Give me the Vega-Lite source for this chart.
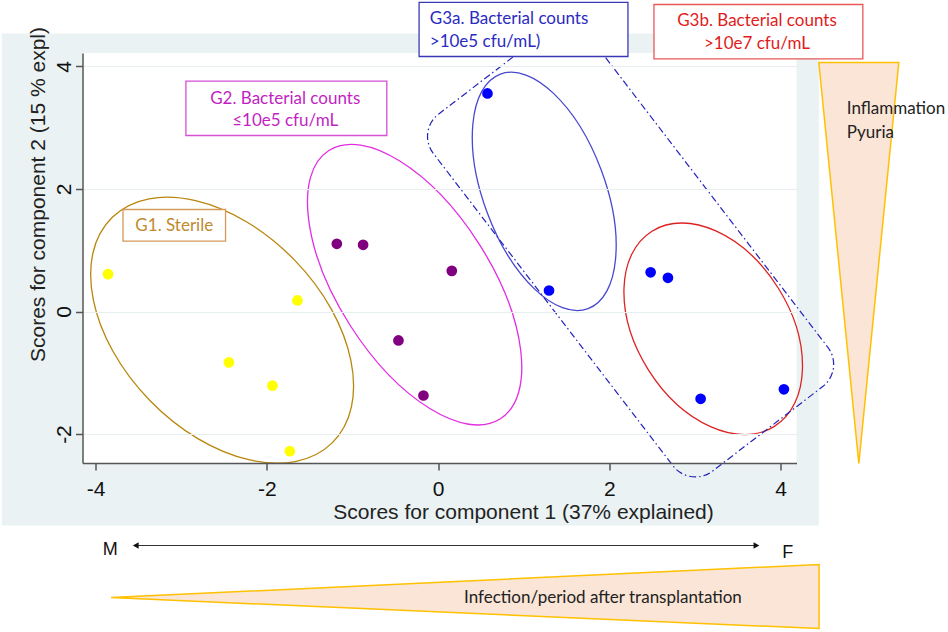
{
  "$schema": "https://vega.github.io/schema/vega-lite/v6.json",
  "width": 714,
  "height": 410,
  "autosize": {"type": "none"},
  "padding": {"left": 82.5, "top": 53, "right": 151.5, "bottom": 169},
  "background": "white",
  "config": {
    "view": {"stroke": null},
    "font": "Liberation Sans"
  },
  "datasets": {
    "panel": [
      {"part": "outer", "x": -5.096, "x2": 4.448, "y": 4.539, "y2": -3.494},
      {"part": "inner", "x": -4.154, "x2": 4.187, "y": 4.22, "y2": -2.473}
    ],
    "ellipses": [
      {"group": "G1", "x": -2.523, "y": -0.305},
      {"group": "G2", "x": -0.274, "y": 0.438},
      {"group": "G3a", "x": 1.24, "y": 1.961},
      {"group": "G3b", "x": 3.214, "y": -0.282},
      {"group": "G3", "x": 2.249, "y": 0.998}
    ],
    "points": [
      {"group": "G1", "x": -3.856, "y": 0.61},
      {"group": "G1", "x": -1.643, "y": 0.18},
      {"group": "G1", "x": -2.444, "y": -0.83},
      {"group": "G1", "x": -1.935, "y": -1.21},
      {"group": "G1", "x": -1.732, "y": -2.28},
      {"group": "G2", "x": -1.183, "y": 1.105},
      {"group": "G2", "x": -0.876, "y": 1.089},
      {"group": "G2", "x": 0.16, "y": 0.664},
      {"group": "G2", "x": -0.463, "y": -0.473},
      {"group": "G2", "x": -0.171, "y": -1.371},
      {"group": "G3", "x": 0.577, "y": 3.56},
      {"group": "G3", "x": 1.296, "y": 0.343},
      {"group": "G3", "x": 2.483, "y": 0.64},
      {"group": "G3", "x": 2.685, "y": 0.55},
      {"group": "G3", "x": 3.067, "y": -1.425},
      {"group": "G3", "x": 4.04, "y": -1.27}
    ],
    "boxes": [
      {"group": "G1", "x": -3.681, "x2": -2.483, "y": 1.665, "y2": 1.148},
      {"group": "G2", "x": -2.946, "x2": -0.599, "y": 3.76, "y2": 2.873},
      {"group": "G3a", "x": -0.222, "x2": 2.218, "y": 5.045, "y2": 4.163},
      {"group": "G3b", "x": 2.522, "x2": 4.962, "y": 5.012, "y2": 4.125}
    ],
    "centered": [
      {"tone": "G1", "text": "G1. Sterile", "x": -3.082, "y": 1.404},
      {"tone": "G2", "text": "G2. Bacterial counts", "x": -1.786, "y": 3.473},
      {"tone": "G2", "text": "≤10e5 cfu/mL", "x": -1.786, "y": 3.118},
      {"tone": "G3b", "text": "G3b. Bacterial counts", "x": 3.725, "y": 4.74},
      {"tone": "G3b", "text": ">10e7 cfu/mL", "x": 3.725, "y": 4.371}
    ],
    "leftText": [
      {"tone": "G3a", "text": "G3a. Bacterial counts", "x": -0.097, "y": 4.779},
      {"tone": "G3a", "text": ">10e5 cfu/mL)", "x": -0.097, "y": 4.397},
      {"tone": "plain", "text": "Inflammation", "x": 4.775, "y": 3.298},
      {"tone": "plain", "text": "Pyuria", "x": 4.775, "y": 2.922},
      {"tone": "plain", "text": "Infection/period after transplantation", "x": 0.304, "y": -4.669}
    ],
    "wedges": [
      {"name": "vertical", "x": 4.915, "y": 0.792},
      {"name": "horizontal", "x": 0.315, "y": -4.653}
    ],
    "arrow": [
      {"x": -3.55, "x2": 3.70, "y": -3.82}
    ],
    "heads": [
      {"dir": "left", "x": -3.532, "y": -3.82},
      {"dir": "right", "x": 3.719, "y": -3.82}
    ],
    "ends": [
      {"text": "M", "x": -3.83, "y": -3.886},
      {"text": "F", "x": 4.086, "y": -3.935}
    ]
  },
  "encoding": {
    "x": {
      "field": "x",
      "type": "quantitative",
      "scale": {"domain": [-4.154, 4.187], "nice": false, "zero": false},
      "axis": {
        "values": [-4, -2, 0, 2, 4],
        "labelExpr": "replace(datum.label, '\u2212', '-')",
        "grid": false,
        "zindex": 1,
        "domainColor": "#555555",
        "domainWidth": 1.5,
        "tickColor": "#555555",
        "tickWidth": 1.5,
        "tickSize": 7,
        "labelFontSize": 21,
        "labelColor": "#111111",
        "labelPadding": 8,
        "labelFlush": false,
        "title": "Scores for component 1  (37% explained)",
        "titleFontSize": 21,
        "titleFontWeight": "normal",
        "titleColor": "#222222",
        "titleX": 440.5,
        "titleY": 55,
        "titleAlign": "center",
        "titleBaseline": "alphabetic"
      }
    },
    "y": {
      "field": "y",
      "type": "quantitative",
      "scale": {"domain": [-2.473, 4.22], "nice": false, "zero": false},
      "axis": {
        "values": [-2, 0, 2, 4],
        "labelExpr": "replace(datum.label, '\u2212', '-')",
        "grid": true,
        "gridColor": "#e6eef0",
        "gridWidth": 1.2,
        "zindex": 1,
        "domainColor": "#555555",
        "domainWidth": 1.5,
        "tickColor": "#555555",
        "tickWidth": 1.5,
        "tickSize": 7,
        "labelFontSize": 21,
        "labelColor": "#111111",
        "labelAngle": -90,
        "labelAlign": "center",
        "labelBaseline": "alphabetic",
        "labelPadding": 5,
        "labelFlush": false,
        "title": "Scores for component 2  (15 % expl)",
        "titleFontSize": 21,
        "titleFontWeight": "normal",
        "titleColor": "#222222",
        "titleAngle": -90,
        "titleX": -44.5,
        "titleY": 141,
        "titleAlign": "center",
        "titleBaseline": "middle"
      }
    }
  },
  "layer": [
    {
      "data": {"name": "panel"},
      "transform": [{"filter": "datum.part == 'outer'"}],
      "mark": {"type": "rect", "fill": "#eaf2f3"},
      "encoding": {"x2": {"field": "x2"}, "y2": {"field": "y2"}}
    },
    {
      "data": {"name": "panel"},
      "transform": [{"filter": "datum.part == 'inner'"}],
      "mark": {"type": "rect", "fill": "#ffffff"},
      "encoding": {"x2": {"field": "x2"}, "y2": {"field": "y2"}}
    },
    {
      "data": {"name": "ellipses"},
      "transform": [{"filter": "datum.group == 'G1'"}],
      "mark": {"type": "point", "filled": false, "opacity": 1, "stroke": "#b8860b", "strokeWidth": 1.3,
        "shape": "M -1 0 A 1 0.64 0 1 1 1 0 A 1 0.64 0 1 1 -1 0 Z", "size": 99225, "angle": 45.8}
    },
    {
      "data": {"name": "ellipses"},
      "transform": [{"filter": "datum.group == 'G2'"}],
      "mark": {"type": "point", "filled": false, "opacity": 1, "stroke": "#e22ee2", "strokeWidth": 1.3,
        "shape": "M -1 0 A 1 0.479 0 1 1 1 0 A 1 0.479 0 1 1 -1 0 Z", "size": 101378, "angle": 57.4}
    },
    {
      "data": {"name": "ellipses"},
      "transform": [{"filter": "datum.group == 'G3a'"}],
      "mark": {"type": "point", "filled": false, "opacity": 1, "stroke": "#4848d0", "strokeWidth": 1.3,
        "shape": "M -1 0 A 1 0.486 0 1 1 1 0 A 1 0.486 0 1 1 -1 0 Z", "size": 62700, "angle": 69.5}
    },
    {
      "data": {"name": "ellipses"},
      "transform": [{"filter": "datum.group == 'G3b'"}],
      "mark": {"type": "point", "filled": false, "opacity": 1, "stroke": "#dd2222", "strokeWidth": 1.3,
        "shape": "M -1 0 A 1 0.666 0 1 1 1 0 A 1 0.666 0 1 1 -1 0 Z", "size": 53084, "angle": 57.9}
    },
    {
      "data": {"name": "ellipses"},
      "transform": [{"filter": "datum.group == 'G3'"}],
      "mark": {"type": "point", "filled": false, "opacity": 1, "stroke": "#2222bb", "strokeWidth": 1.2,
        "strokeDash": [7, 3, 1.5, 3],
        "shape": "M -0.8756 -0.4333 L 0.8756 -0.4333 A 0.1244 0.1244 0 0 1 1 -0.3089 L 1 0.3089 A 0.1244 0.1244 0 0 1 0.8756 0.4333 L -0.8756 0.4333 A 0.1244 0.1244 0 0 1 -1 0.3089 L -1 -0.3089 A 0.1244 0.1244 0 0 1 -0.8756 -0.4333 Z",
        "size": 202500, "angle": 52.5}
    },
    {
      "data": {"name": "points"},
      "mark": {"type": "point", "filled": true, "opacity": 1, "shape": "circle", "size": 115},
      "encoding": {
        "color": {
          "field": "group",
          "type": "nominal",
          "scale": {"domain": ["G1", "G2", "G3"], "range": ["#ffff00", "#800080", "#0000ff"]},
          "legend": null
        }
      }
    },
    {
      "data": {"name": "boxes"},
      "mark": {"type": "rect", "fill": "#ffffff", "strokeWidth": 1.3},
      "encoding": {
        "x2": {"field": "x2"},
        "y2": {"field": "y2"},
        "stroke": {
          "field": "group",
          "type": "nominal",
          "scale": {"domain": ["G1", "G2", "G3a", "G3b"], "range": ["#d39a5a", "#d64fd6", "#3a3ab8", "#e8585a"]},
          "legend": null
        }
      }
    },
    {
      "data": {"name": "centered"},
      "mark": {"type": "text", "font": "Lato", "fontSize": 17, "align": "center", "baseline": "middle"},
      "encoding": {
        "text": {"field": "text"},
        "fill": {
          "field": "tone",
          "type": "nominal",
          "scale": {"domain": ["G1", "G2", "G3a", "G3b", "plain"], "range": ["#bf8a2e", "#c21fc2", "#2b2bc0", "#e01b1b", "#222222"]},
          "legend": null
        }
      }
    },
    {
      "data": {"name": "wedges"},
      "transform": [{"filter": "datum.name == 'vertical'"}],
      "mark": {"type": "point", "filled": true, "opacity": 1, "fill": "#fbe5d6", "stroke": "#ffc000", "strokeWidth": 1.5,
        "shape": "M -0.1995 -1 L 0.1995 -1 L 0 1 Z", "size": 160801}
    },
    {
      "data": {"name": "wedges"},
      "transform": [{"filter": "datum.name == 'horizontal'"}],
      "mark": {"type": "point", "filled": true, "opacity": 1, "fill": "#fbe5d6", "stroke": "#ffc000", "strokeWidth": 1.5,
        "shape": "M -1 0.003 L 1 -0.0904 L 1 0.0904 Z", "size": 501264}
    },
    {
      "data": {"name": "leftText"},
      "mark": {"type": "text", "font": "Lato", "fontSize": 17, "align": "left", "baseline": "middle"},
      "encoding": {
        "text": {"field": "text"},
        "fill": {
          "field": "tone",
          "type": "nominal",
          "scale": {"domain": ["G1", "G2", "G3a", "G3b", "plain"], "range": ["#bf8a2e", "#c21fc2", "#2b2bc0", "#e01b1b", "#222222"]},
          "legend": null
        }
      }
    },
    {
      "data": {"name": "arrow"},
      "mark": {"type": "rule", "color": "#333333", "strokeWidth": 1.2},
      "encoding": {"x2": {"field": "x2"}}
    },
    {
      "data": {"name": "heads"},
      "mark": {"type": "point", "filled": true, "opacity": 1, "size": 45, "color": "#111111"},
      "encoding": {
        "shape": {
          "field": "dir",
          "type": "nominal",
          "scale": {"domain": ["left", "right"], "range": ["triangle-left", "triangle-right"]},
          "legend": null
        }
      }
    },
    {
      "data": {"name": "ends"},
      "mark": {"type": "text", "fontSize": 18, "align": "center", "baseline": "middle", "color": "#111111"},
      "encoding": {"text": {"field": "text"}}
    }
  ]
}
